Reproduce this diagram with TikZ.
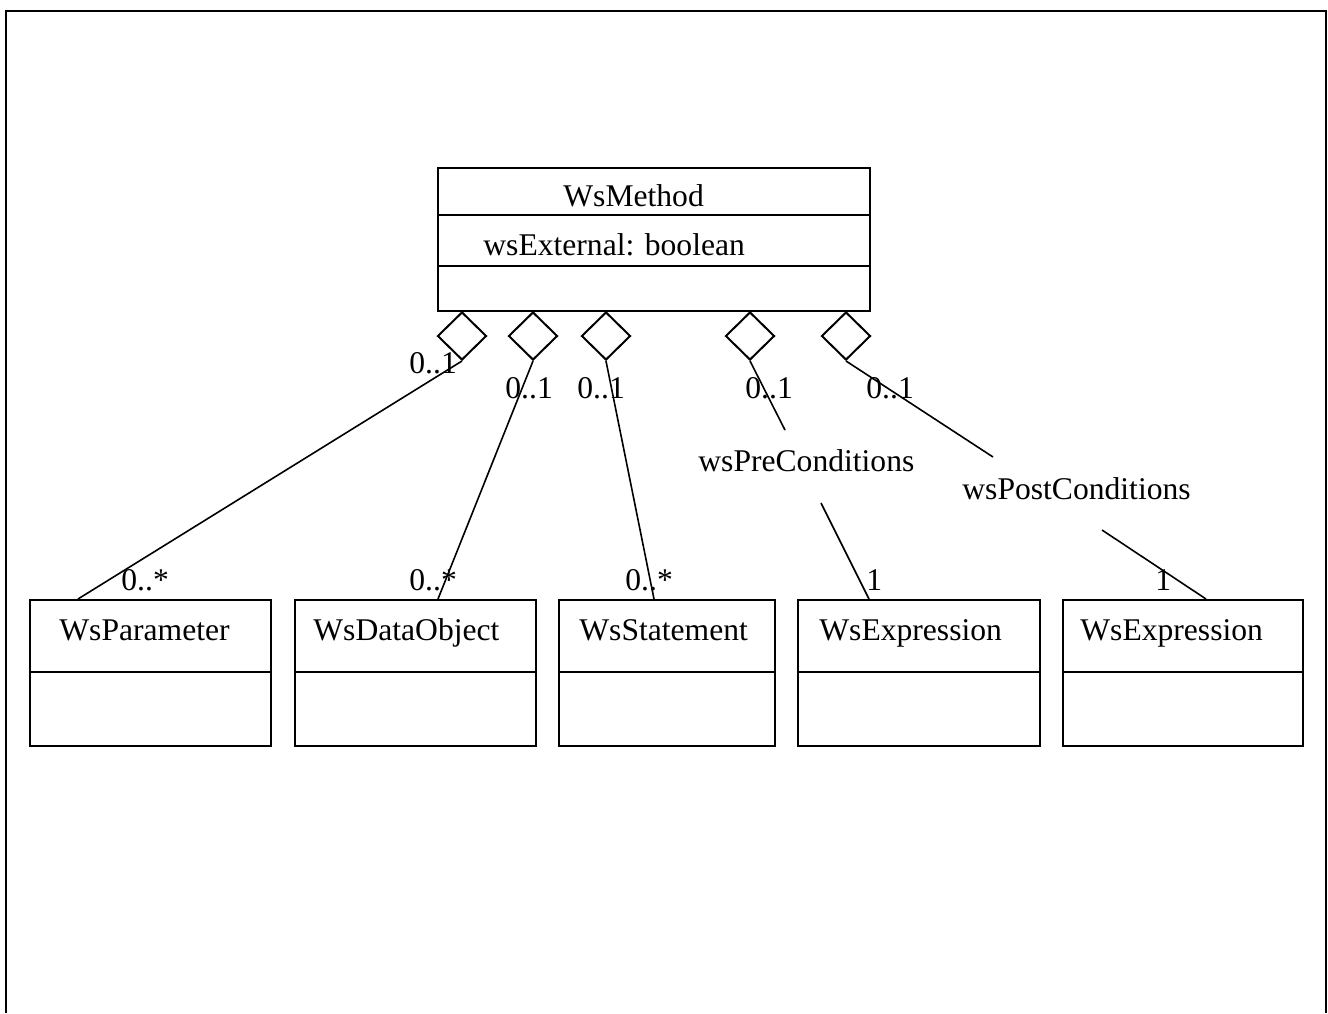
\documentclass[tikz,border=0pt]{standalone}
\usepackage{fontspec}
\setmainfont{Liberation Serif}
\usetikzlibrary{shapes.geometric}

\tikzset{
  cls/.style={draw, line width=1pt, inner sep=0pt, anchor=north west},
  agg/.style={draw, diamond, line width=1pt, inner sep=0pt, minimum width=24.5pt, minimum height=24pt, anchor=north},
  lbl/.style={inner sep=0pt, anchor=base west},
  assoc/.style={line width=0.8pt}
}

\begin{document}
\begin{tikzpicture}[x=0.5pt, y=-0.5pt, font=\fontsize{15.8}{19}\selectfont]
    \useasboundingbox (0,0) rectangle (1328,1013);
    % frame, open at the bottom
    \draw[line width=1pt] (6,1013) -- (6,11) -- (1326,11) -- (1326,1013);

    % WsMethod
    \node[cls, minimum width=216pt, minimum height=71.5pt] (meth) at (437,167) {};
    \draw[line width=1pt] ([yshift=-24pt]meth.north west) -- ([yshift=-24pt]meth.north east);
    \draw[line width=1pt] ([yshift=-49.5pt]meth.north west) -- ([yshift=-49.5pt]meth.north east);
    \node[lbl] (methname) at (563,206) {WsMethod};
    \node[lbl] (methattr) at (483,255) {wsExternal: boolean};

    % aggregation diamonds
    \node[agg] (d1) at (462,311) {};
    \node[agg] (d2) at (533,311) {};
    \node[agg] (d3) at (606,311) {};
    \node[agg] (d4) at (750,311) {};
    \node[agg] (d5) at (846,311) {};

    % classes below
    \node[cls, minimum width=120.5pt, minimum height=73pt] (par) at (29,599) {};
    \draw[line width=1pt] ([yshift=-36.5pt]par.north west) -- ([yshift=-36.5pt]par.north east);
    \node[lbl] (parname) at (59,640) {WsParameter};

    \node[cls, minimum width=120.5pt, minimum height=73pt] (dat) at (294,599) {};
    \draw[line width=1pt] ([yshift=-36.5pt]dat.north west) -- ([yshift=-36.5pt]dat.north east);
    \node[lbl] (datname) at (313,640) {WsDataObject};

    \node[cls, minimum width=108pt, minimum height=73pt] (stm) at (558,599) {};
    \draw[line width=1pt] ([yshift=-36.5pt]stm.north west) -- ([yshift=-36.5pt]stm.north east);
    \node[lbl] (stmname) at (579,640) {WsStatement};

    \node[cls, minimum width=121pt, minimum height=73pt] (exa) at (797,599) {};
    \draw[line width=1pt] ([yshift=-36.5pt]exa.north west) -- ([yshift=-36.5pt]exa.north east);
    \node[lbl] (exaname) at (819,640) {WsExpression};

    \node[cls, minimum width=120pt, minimum height=73pt] (exb) at (1062,599) {};
    \draw[line width=1pt] ([yshift=-36.5pt]exb.north west) -- ([yshift=-36.5pt]exb.north east);
    \node[lbl] (exbname) at (1080,640) {WsExpression};

    % associations
    \draw[assoc] (d1.south) -- ([xshift=24.5pt]par.north west);
    \draw[assoc] (d2.south) -- ([xshift=72pt]dat.north west);
    \draw[assoc] (d3.south) -- ([xshift=48pt]stm.north west);
    \coordinate (preA) at (785,430);
    \coordinate (preB) at (821,503);
    \draw[assoc] (d4.south) -- (preA);
    \draw[assoc] (preB) -- ([xshift=36pt]exa.north west);
    \coordinate (postA) at (993,457);
    \coordinate (postB) at (1102,530);
    \draw[assoc] (d5.south) -- (postA);
    \draw[assoc] (postB) -- ([xshift=72pt]exb.north west);

    % role names
    \node[lbl] (pre) at (698,471) {wsPreConditions};
    \node[lbl] (post) at (962,499) {wsPostConditions};

    % multiplicities
    \node[lbl] (m1a) at (409,373) {0..1};
    \node[lbl] (m2a) at (505,398) {0..1};
    \node[lbl] (m3a) at (577,398) {0..1};
    \node[lbl] (m4a) at (745,398) {0..1};
    \node[lbl] (m5a) at (866,398) {0..1};
    \node[lbl] (m1b) at (121,590) {0..*};
    \node[lbl] (m2b) at (409,590) {0..*};
    \node[lbl] (m3b) at (625,590) {0..*};
    \node[lbl] (m4b) at (866,590) {1};
    \node[lbl] (m5b) at (1155,590) {1};
\end{tikzpicture}
\end{document}
